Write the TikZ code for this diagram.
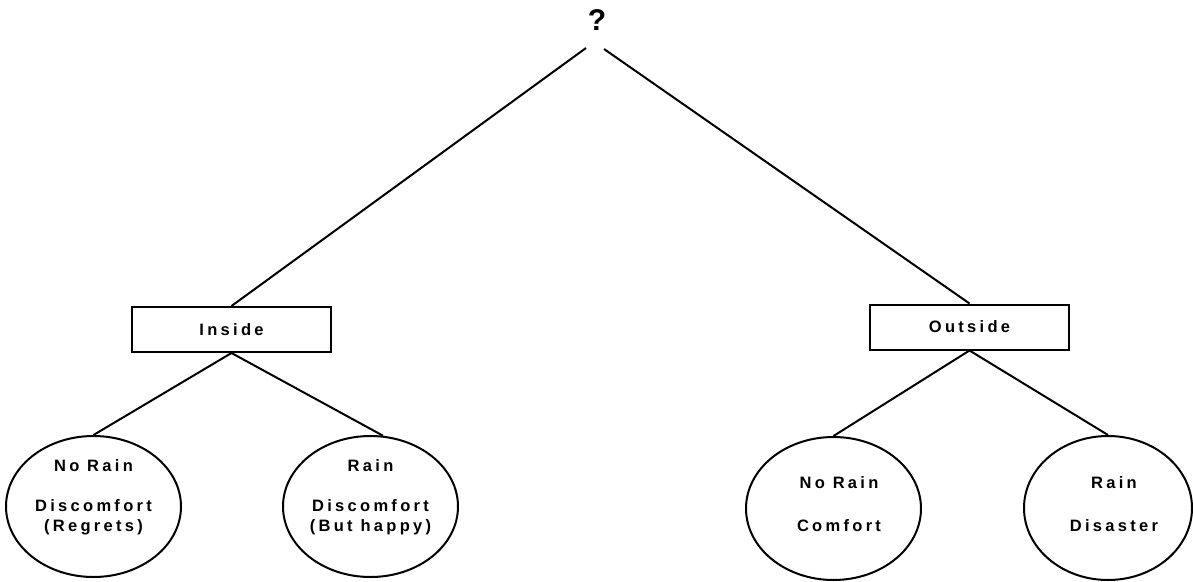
\documentclass[tikz,border=0pt]{standalone}
\usepackage{fontspec}
\setmainfont{Liberation Sans}
\newfontfamily\lblfont[LetterSpace=20]{Liberation Sans}
\usetikzlibrary{shapes.geometric}
\tikzset{
  line/.style={line width=2pt, black},
  choice/.style={draw, line width=2pt, rectangle, minimum width=199pt, minimum height=45pt, inner sep=0pt},
  leaf/.style={draw, line width=2pt, ellipse, minimum width=175pt, minimum height=141pt, inner sep=0pt},
  txt/.style={align=center, inner sep=0pt, font=\lblfont\bfseries\fontsize{16.5}{20}\selectfont},
}
\begin{document}
\begin{tikzpicture}[x=1pt,y=-1pt]
\useasboundingbox (0,0) rectangle (1193,581);
\fill[white] (0,0) rectangle (1193,581);
\node[font=\bfseries\fontsize{30}{32}\selectfont, inner sep=0pt] (q) at (597,20) {?};
\coordinate (qL) at (586,48);
\coordinate (qR) at (604,49);
\node[choice, txt] (inside) at (231.5,329.5) {Inside};
\node[choice, txt] (outside) at (969.5,327) {Outside};
\node[leaf] (e1) at (93.5,506.5) {};
\node[leaf] (e2) at (370.5,506.5) {};
\node[leaf, minimum height=143pt] (e3) at (833.5,508.5) {};
\node[leaf, minimum width=168pt, minimum height=144pt] (e4) at (1108,508) {};
\node[txt] (t1) at (93.5,497) {No Rain\\[20pt]Discomfort\\(Regrets)};
\node[txt] (t2) at (370.5,497) {Rain\\[20pt]Discomfort\\(But happy)};
\node[txt] (t3) at (839,504.5) {No Rain\\[23pt]Comfort};
\node[txt] (t4) at (1114,504.5) {Rain\\[23pt]Disaster};
\draw[line] (qL) -- (inside.north);
\draw[line] (qR) -- (outside.north);
\draw[line] (inside.south) -- (e1.north);
\draw[line] (inside.south) -- (e2.80);
\draw[line] (outside.south) -- (e3.north);
\draw[line] (outside.south) -- (e4.north);
\end{tikzpicture}
\end{document}
